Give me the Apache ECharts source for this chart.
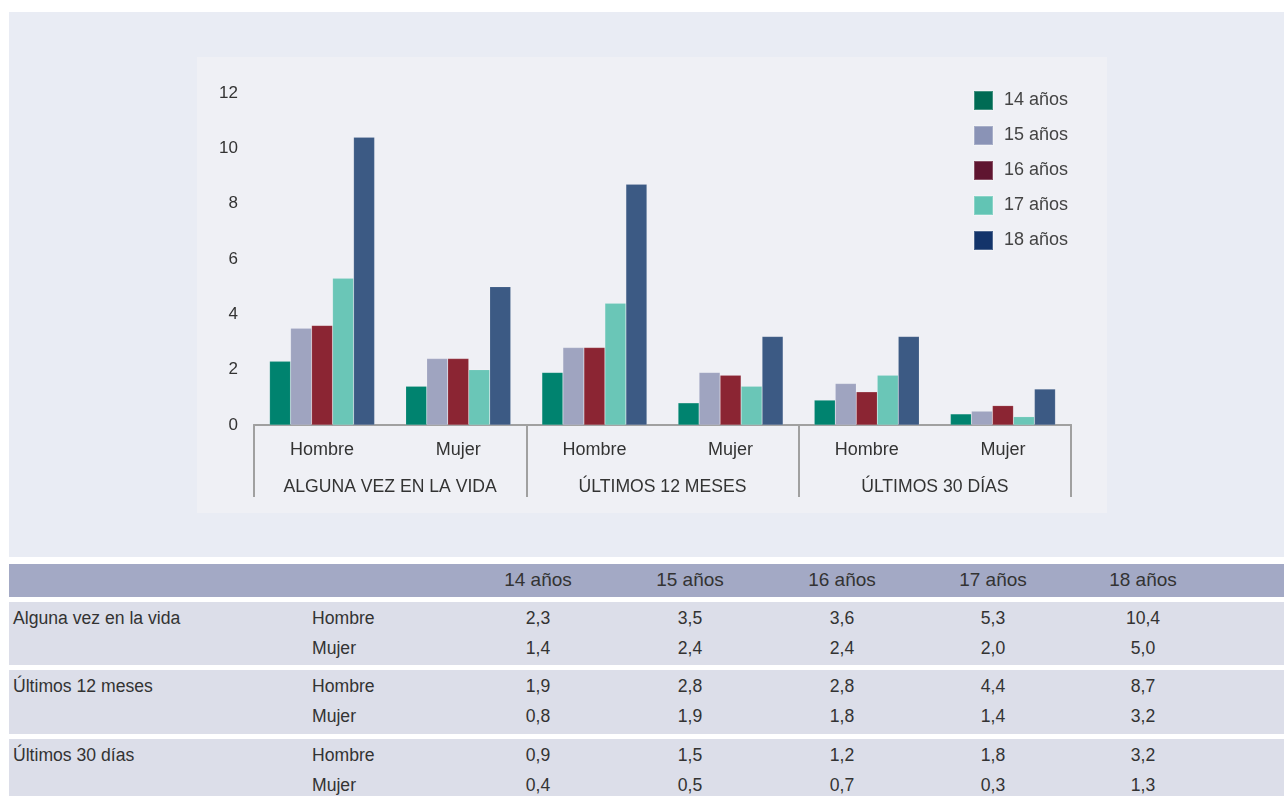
<!DOCTYPE html>
<html><head><meta charset="utf-8">
<script src="https://cdn.jsdelivr.net/npm/echarts@6/dist/echarts.min.js"></script>
<style>
html,body{margin:0;padding:0;background:#fff;width:1284px;height:796px;overflow:hidden;font-family:"Liberation Sans",Arial,sans-serif;}
#outer{position:absolute;left:9px;top:12px;width:1275px;height:545px;background:#e9ecf4;}
#panel{position:absolute;left:197px;top:57px;width:910px;height:456px;background:#eff0f5;}
#chart{position:absolute;left:0;top:0;width:1284px;height:560px;}
.r{position:absolute;left:9px;width:1275px;}
.t{position:absolute;font-size:17.6px;color:#333;white-space:nowrap;line-height:20px;}
</style></head><body>
<div id="outer"></div><div id="panel"></div>
<div id="chart"></div>
<div id="table"></div>
<script>
const groups = ['ALGUNA VEZ EN LA VIDA', 'ÚLTIMOS 12 MESES', 'ÚLTIMOS 30 DÍAS'];
const groupRowLabels = ['Alguna vez en la vida', 'Últimos 12 meses', 'Últimos 30 días'];
const sexes = ['Hombre', 'Mujer'];
const ages = ['14 años', '15 años', '16 años', '17 años', '18 años'];
// rows: Alguna H, Alguna M, 12m H, 12m M, 30d H, 30d M
const v14 = [2.3, 1.4, 1.9, 0.8, 0.9, 0.4];
const v15 = [3.5, 2.4, 2.8, 1.9, 1.5, 0.5];
const v16 = [3.6, 2.4, 2.8, 1.8, 1.2, 0.7];
const v17 = [5.3, 2.0, 4.4, 1.4, 1.8, 0.3];
const v18 = [10.4, 5.0, 8.7, 3.2, 3.2, 1.3];
const yTicks = [0, 2, 4, 6, 8, 10, 12];

const seriesValues = [v14, v15, v16, v17, v18];
const barColors = ['#00836f', '#9fa4c0', '#8b2533', '#6ac6b7', '#3c5a84'];
const legendColors = ['#006b54', '#8a93b6', '#5f1530', '#62c4b4', '#13346a'];
const cats = [];
groups.forEach(() => sexes.forEach(s => cats.push(s)));

const chart = echarts.init(document.getElementById('chart'), null, {renderer: 'canvas'});
chart.setOption({
  backgroundColor: 'transparent',
  animation: false,
  textStyle: {fontFamily: '"Liberation Sans", Arial, sans-serif'},
  grid: {left: 254, right: 213, top: 93, height: 332},
  legend: {
    orient: 'vertical', left: 973, top: 90, padding: 0, itemWidth: 19, itemHeight: 19, itemGap: 14,
    icon: 'rect',
    textStyle: {fontSize: 18, color: '#444', lineHeight: 19, padding: [0, 0, 0, 6]},
    data: ages.map((a, i) => ({name: a, itemStyle: {color: legendColors[i]}}))
  },
  xAxis: [{
    type: 'category', data: cats, position: 'bottom',
    axisLine: {show: true, lineStyle: {color: '#a0a0a0', width: 2}},
    axisTick: {show: false},
    axisLabel: {fontSize: 18, color: '#333', margin: 16, interval: 0}
  }, {
    type: 'category', data: groups, position: 'bottom', gridIndex: 0,
    axisLine: {show: true, lineStyle: {color: '#a0a0a0', width: 2}},
    axisTick: {show: true, interval: 0, length: 72, lineStyle: {color: '#a0a0a0', width: 2}},
    axisLabel: {fontSize: 17.6, color: '#333', margin: 53, interval: 0, hideOverlap: false}
  }],
  yAxis: {
    type: 'value', min: 0, max: 12, interval: 2,
    axisLine: {show: false}, axisTick: {show: false}, splitLine: {show: false},
    axisLabel: {fontSize: 17, color: '#333', margin: 16,
      formatter: v => yTicks.includes(v) ? String(v) : ''}
  },
  series: ages.map((a, i) => ({
    name: a, type: 'bar', xAxisIndex: 0, data: seriesValues[i],
    barWidth: 21, barGap: '0%',
    itemStyle: {color: barColors[i], borderColor: 'rgba(255,255,255,0.25)', borderWidth: 0.5}
  }))
});

// Table
const fmt = v => v.toFixed(1).replace('.', ',');
const colCenters = [538, 690, 842, 993, 1143];
const tbl = document.getElementById('table');
let html = '';
html += '<div class="r" style="top:564px;height:33px;background:#a3a9c5"></div>';
ages.forEach((a, i) => {
  html += `<div class="t" style="top:570px;left:${colCenters[i]-60}px;width:120px;text-align:center;font-size:19px">${a}</div>`;
});
const groupTops = [602, 670, 739];
const groupHeights = [63, 64, 60];
groupRowLabels.forEach((g, gi) => {
  const top = groupTops[gi];
  html += `<div class="r" style="top:${top}px;height:${groupHeights[gi]}px;background:#dcdee9"></div>`;
  html += `<div class="t" style="top:${top+6}px;left:13px">${g}</div>`;
  sexes.forEach((s, si) => {
    const y = top + 6 + si * 30;
    html += `<div class="t" style="top:${y}px;left:312px">${s}</div>`;
    seriesValues.forEach((arr, ci) => {
      html += `<div class="t" style="top:${y}px;left:${colCenters[ci]-50}px;width:100px;text-align:center">${fmt(arr[gi*2+si])}</div>`;
    });
  });
});
tbl.innerHTML = html;
</script>
</body></html>
